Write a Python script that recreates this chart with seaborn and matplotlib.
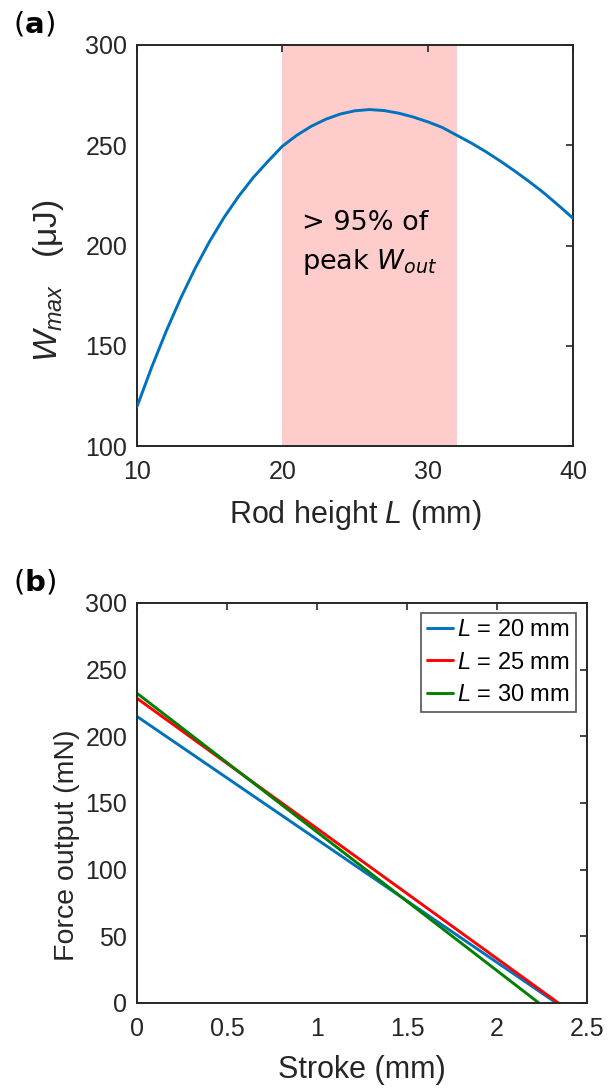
import numpy as np
import pandas as pd
import matplotlib
matplotlib.use("Agg")
import matplotlib.pyplot as plt
import seaborn as sns

# ---------------- data ----------------
rod_height = [10, 11, 12, 13, 14, 15, 16, 17, 18, 19, 20, 21, 22, 23, 24, 25,
              26, 27, 28, 29, 30, 31, 32, 33, 34, 35, 36, 37, 38, 39, 40]
w_max = [119.6, 139.1, 157.1, 173.6, 188.6, 202.1, 214.1, 224.6, 233.9, 241.9,
         249.5, 255.0, 259.5, 263.0, 265.6, 267.2, 267.8, 267.3, 266.0, 264.1,
         261.7, 258.9, 255.0, 251.1, 246.8, 242.1, 237.1, 231.8, 226.2, 220.0,
         213.6]
band_start, band_end = 20, 32

stroke_l20 = [0.0, 2.33]
force_l20 = [214.9, 0.0]
stroke_l25 = [0.0, 2.341]
force_l25 = [228.5, 0.0]
stroke_l30 = [0.0, 2.233]
force_l30 = [232.3, 0.0]
series_labels = ["$\\mathit{L}$ = 20 mm", "$\\mathit{L}$ = 25 mm", "$\\mathit{L}$ = 30 mm"]

xticks_a = [10, 20, 30, 40]
yticks_a = [100, 150, 200, 250, 300]
xticks_b = [0, 0.5, 1, 1.5, 2, 2.5]
xticklabels_b = ["0", "0.5", "1", "1.5", "2", "2.5"]
yticks_b = [0, 50, 100, 150, 200, 250, 300]

# ---------------- style ----------------
sns.set_theme(style="white")
plt.rcParams["font.family"] = ["Liberation Sans", "DejaVu Sans"]
plt.rcParams["mathtext.fontset"] = "custom"
plt.rcParams["mathtext.rm"] = "Liberation Sans"
plt.rcParams["mathtext.it"] = "Liberation Sans:italic"
plt.rcParams["mathtext.bf"] = "Liberation Sans:bold"

dark = "#262626"
blue = "#0072BD"
red = "#FF0000"
green = "#008000"
pink = "#FFCCCC"

W, H = 608, 1090
fig = plt.figure(figsize=(W / 100, H / 100), dpi=100)

def px_axes(l, t, r, b):
    return fig.add_axes([l / W, 1 - b / H, (r - l) / W, (b - t) / H])

ax1 = px_axes(137, 45, 573, 446)
ax2 = px_axes(137, 603, 587, 1003)

for ax in (ax1, ax2):
    for s in ax.spines.values():
        s.set_color(dark)
        s.set_linewidth(1.4)
    ax.tick_params(direction="in", length=5, width=1.2, top=True, right=True,
                   labelsize=18, color=dark, labelcolor=dark)
    ax.tick_params(axis="y", pad=7)
    ax.tick_params(axis="x", pad=10)

# ---------------- panel (a) ----------------
ax1.axvspan(band_start, band_end, color=pink, lw=0, zorder=0)
df_a = pd.DataFrame({"L": rod_height, "W": w_max})
sns.lineplot(data=df_a, x="L", y="W", ax=ax1, color=blue, lw=2.1,
             estimator=None, sort=False, zorder=3)
ax1.set_xlim(10, 40)
ax1.set_ylim(100, 300)
ax1.set_xticks(xticks_a)
ax1.set_yticks(yticks_a)
ax1.set_xlabel("Rod height $\\mathit{L}$ (mm)", fontsize=22, color=dark, labelpad=10)
ax1.set_ylabel("$W_{max}$   (μJ)", fontsize=24, color=dark)
ax1.yaxis.set_label_coords((66 - 137) / 436, (446 - 281) / 401)

ax1.text(21.36, 211.4, "> 95% of", fontsize=19.5, family="DejaVu Sans",
         ha="left", va="center", color="black")
ax1.text(21.36, 191.9, "peak $W_{out}$", fontsize=19.5, family="DejaVu Sans",
         math_fontfamily="dejavusans", ha="left", va="center", color="black")

# ---------------- panel (b) ----------------
df_b = pd.concat([
    pd.DataFrame({"stroke": stroke_l20, "force": force_l20, "series": series_labels[0]}),
    pd.DataFrame({"stroke": stroke_l25, "force": force_l25, "series": series_labels[1]}),
    pd.DataFrame({"stroke": stroke_l30, "force": force_l30, "series": series_labels[2]}),
], ignore_index=True)
sns.lineplot(data=df_b, x="stroke", y="force", hue="series",
             palette=[blue, red, green], ax=ax2, lw=2.1, estimator=None, sort=False)
ax2.set_xlim(0, 2.5)
ax2.set_ylim(0, 300)
ax2.set_xticks(xticks_b)
ax2.set_xticklabels(xticklabels_b)
ax2.set_yticks(yticks_b)
ax2.set_xlabel("Stroke (mm)", fontsize=22, color=dark, labelpad=10)
ax2.set_ylabel("Force output (mN)", fontsize=20.5, color=dark)
ax2.yaxis.set_label_coords((80 - 137) / 450, (1003 - 845) / 400)

leg = ax2.legend(loc="upper right", bbox_to_anchor=((576 - 137) / 450, (1003 - 613) / 400),
                 borderaxespad=0, fontsize=17, frameon=True, fancybox=False,
                 handlelength=1.1, handletextpad=0.2, borderpad=0.25, labelspacing=0.45,
                 title=None)
leg.get_frame().set_edgecolor(dark)
leg.get_frame().set_linewidth(1.2)
for t in leg.get_texts():
    t.set_color("black")

# ---------------- panel labels ----------------
fig.text(13 / W, 1 - 33 / H, "($\\mathbf{a}$)", fontsize=21,
         family="DejaVu Sans", math_fontfamily="dejavusans",
         va="baseline", ha="left", color="black")
fig.text(13 / W, 1 - 591 / H, "($\\mathbf{b}$)", fontsize=21,
         family="DejaVu Sans", math_fontfamily="dejavusans",
         va="baseline", ha="left", color="black")

fig.savefig("out.png", dpi=100)
